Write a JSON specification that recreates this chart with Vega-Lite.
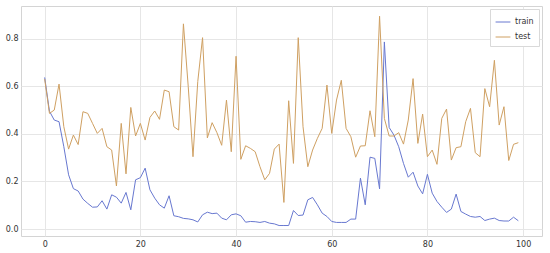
{
  "$schema": "https://vega.github.io/schema/vega-lite/v6.json",
  "width": 521,
  "height": 230,
  "autosize": "none",
  "padding": {"left": 21, "top": 6, "right": 8, "bottom": 17},
  "background": "white",
  "config": {
    "view": {"stroke": "#d4d4d4", "strokeWidth": 1},
    "font": "DejaVu Sans",
    "axis": {
      "grid": true,
      "gridColor": "#e6e6e6",
      "gridWidth": 1,
      "domain": false,
      "ticks": false,
      "labelFont": "DejaVu Sans",
      "labelFontSize": 8,
      "labelColor": "#333333",
      "title": null
    }
  },
  "data": {"values": [
    {"epoch":0,"train":0.637,"test":0.63},
    {"epoch":1,"train":0.495,"test":0.486},
    {"epoch":2,"train":0.458,"test":0.5},
    {"epoch":3,"train":0.451,"test":0.609},
    {"epoch":4,"train":0.346,"test":0.43},
    {"epoch":5,"train":0.228,"test":0.336},
    {"epoch":6,"train":0.17,"test":0.395},
    {"epoch":7,"train":0.16,"test":0.355},
    {"epoch":8,"train":0.126,"test":0.493},
    {"epoch":9,"train":0.108,"test":0.486},
    {"epoch":10,"train":0.092,"test":0.444},
    {"epoch":11,"train":0.093,"test":0.402},
    {"epoch":12,"train":0.119,"test":0.423},
    {"epoch":13,"train":0.084,"test":0.346},
    {"epoch":14,"train":0.144,"test":0.332},
    {"epoch":15,"train":0.134,"test":0.181},
    {"epoch":16,"train":0.109,"test":0.444},
    {"epoch":17,"train":0.154,"test":0.232},
    {"epoch":18,"train":0.081,"test":0.511},
    {"epoch":19,"train":0.207,"test":0.391},
    {"epoch":20,"train":0.216,"test":0.444},
    {"epoch":21,"train":0.256,"test":0.374},
    {"epoch":22,"train":0.165,"test":0.469},
    {"epoch":23,"train":0.13,"test":0.496},
    {"epoch":24,"train":0.102,"test":0.461},
    {"epoch":25,"train":0.088,"test":0.584},
    {"epoch":26,"train":0.14,"test":0.577},
    {"epoch":27,"train":0.056,"test":0.43},
    {"epoch":28,"train":0.052,"test":0.416},
    {"epoch":29,"train":0.045,"test":0.862},
    {"epoch":30,"train":0.043,"test":0.6},
    {"epoch":31,"train":0.039,"test":0.304},
    {"epoch":32,"train":0.03,"test":0.62},
    {"epoch":33,"train":0.06,"test":0.804},
    {"epoch":34,"train":0.071,"test":0.383},
    {"epoch":35,"train":0.065,"test":0.447},
    {"epoch":36,"train":0.067,"test":0.405},
    {"epoch":37,"train":0.046,"test":0.352},
    {"epoch":38,"train":0.039,"test":0.542},
    {"epoch":39,"train":0.06,"test":0.325},
    {"epoch":40,"train":0.064,"test":0.726},
    {"epoch":41,"train":0.056,"test":0.293},
    {"epoch":42,"train":0.029,"test":0.35},
    {"epoch":43,"train":0.032,"test":0.339},
    {"epoch":44,"train":0.031,"test":0.325},
    {"epoch":45,"train":0.028,"test":0.262},
    {"epoch":46,"train":0.032,"test":0.207},
    {"epoch":47,"train":0.025,"test":0.234},
    {"epoch":48,"train":0.022,"test":0.336},
    {"epoch":49,"train":0.015,"test":0.357},
    {"epoch":50,"train":0.015,"test":0.112},
    {"epoch":51,"train":0.015,"test":0.539},
    {"epoch":52,"train":0.078,"test":0.276},
    {"epoch":53,"train":0.057,"test":0.804},
    {"epoch":54,"train":0.059,"test":0.43},
    {"epoch":55,"train":0.123,"test":0.262},
    {"epoch":56,"train":0.133,"test":0.332},
    {"epoch":57,"train":0.102,"test":0.381},
    {"epoch":58,"train":0.067,"test":0.423},
    {"epoch":59,"train":0.053,"test":0.605},
    {"epoch":60,"train":0.032,"test":0.402},
    {"epoch":61,"train":0.028,"test":0.542},
    {"epoch":62,"train":0.028,"test":0.625},
    {"epoch":63,"train":0.028,"test":0.423},
    {"epoch":64,"train":0.042,"test":0.388},
    {"epoch":65,"train":0.042,"test":0.302},
    {"epoch":66,"train":0.214,"test":0.349},
    {"epoch":67,"train":0.102,"test":0.35},
    {"epoch":68,"train":0.302,"test":0.497},
    {"epoch":69,"train":0.297,"test":0.388},
    {"epoch":70,"train":0.169,"test":0.894},
    {"epoch":71,"train":0.786,"test":0.465},
    {"epoch":72,"train":0.427,"test":0.391},
    {"epoch":73,"train":0.395,"test":0.391},
    {"epoch":74,"train":0.346,"test":0.405},
    {"epoch":75,"train":0.276,"test":0.357},
    {"epoch":76,"train":0.218,"test":0.458},
    {"epoch":77,"train":0.239,"test":0.632},
    {"epoch":78,"train":0.181,"test":0.36},
    {"epoch":79,"train":0.148,"test":0.483},
    {"epoch":80,"train":0.23,"test":0.304},
    {"epoch":81,"train":0.151,"test":0.332},
    {"epoch":82,"train":0.116,"test":0.272},
    {"epoch":83,"train":0.092,"test":0.465},
    {"epoch":84,"train":0.07,"test":0.504},
    {"epoch":85,"train":0.084,"test":0.29},
    {"epoch":86,"train":0.147,"test":0.342},
    {"epoch":87,"train":0.074,"test":0.346},
    {"epoch":88,"train":0.063,"test":0.451},
    {"epoch":89,"train":0.053,"test":0.507},
    {"epoch":90,"train":0.05,"test":0.321},
    {"epoch":91,"train":0.053,"test":0.304},
    {"epoch":92,"train":0.036,"test":0.59},
    {"epoch":93,"train":0.042,"test":0.514},
    {"epoch":94,"train":0.046,"test":0.709},
    {"epoch":95,"train":0.036,"test":0.437},
    {"epoch":96,"train":0.034,"test":0.514},
    {"epoch":97,"train":0.034,"test":0.288},
    {"epoch":98,"train":0.05,"test":0.356},
    {"epoch":99,"train":0.035,"test":0.363}
  ]},
  "transform": [{"fold": ["train", "test"], "as": ["series", "value"]}],
  "mark": {"type": "line", "strokeWidth": 1, "clip": true},
  "encoding": {
    "x": {
      "field": "epoch", "type": "quantitative",
      "scale": {"domain": [-4.95, 103.95], "nice": false, "zero": false},
      "axis": {"values": [0, 20, 40, 60, 80, 100], "labelPadding": 4}
    },
    "y": {
      "field": "value", "type": "quantitative",
      "scale": {"domain": [-0.029, 0.937], "nice": false, "zero": false},
      "axis": {"values": [0, 0.2, 0.4, 0.6, 0.8], "format": ".1f", "labelPadding": 3}
    },
    "color": {
      "field": "series", "type": "nominal",
      "scale": {"domain": ["train", "test"], "range": ["#6878d0", "#cfa062"]},
      "legend": {
        "title": null,
        "orient": "top-right",
        "offset": 3,
        "symbolType": "stroke",
        "symbolSize": 220,
        "symbolStrokeWidth": 1,
        "labelFontSize": 8,
        "labelColor": "#333333",
        "fillColor": "white",
        "strokeColor": "#d9d9d9",
        "padding": 5,
        "rowPadding": 3
      }
    },
    "detail": {"field": "series"}
  }
}
